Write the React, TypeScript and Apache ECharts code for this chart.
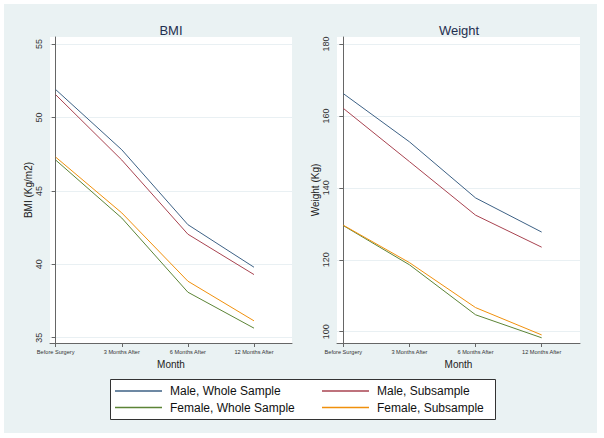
import React, { useEffect, useRef } from "react";
import * as echarts from "echarts";

const months = ["Before Surgery", "3 Months After", "6 Months After", "12 Months After"];
const seriesNames = ["Male, Whole Sample", "Male, Subsample", "Female, Whole Sample", "Female, Subsample"];
const colors = ["#3d6185", "#a84350", "#5c8436", "#f0900c"];

const bmiMaleWhole = [51.9, 47.8, 42.7, 39.8];
const bmiMaleSub = [51.55, 47.1, 42.05, 39.3];
const bmiFemaleWhole = [47.1, 43.15, 38.1, 35.65];
const bmiFemaleSub = [47.3, 43.5, 38.85, 36.15];

const wtMaleWhole = [166.2, 152.8, 137.2, 127.7];
const wtMaleSub = [162.1, 147.3, 132.4, 123.5];
const wtFemaleWhole = [129.5, 118.6, 104.7, 98.3];
const wtFemaleSub = [129.6, 119.2, 106.7, 99.1];

const bmiTicks = [35, 40, 45, 50, 55];
const wtTicks = [100, 120, 140, 160, 180];

const FONT = "'Liberation Sans', Arial, Helvetica, sans-serif";

export default function App() {
  const ref = useRef<HTMLDivElement>(null);

  useEffect(() => {
    if (!ref.current) return;
    const chart = echarts.init(ref.current, null, { renderer: "svg" });

    const toPairs = (arr: number[]) => arr.map((v, i) => [i, v]);
    const bmiSets = [bmiMaleWhole, bmiMaleSub, bmiFemaleWhole, bmiFemaleSub];
    const wtSets = [wtMaleWhole, wtMaleSub, wtFemaleWhole, wtFemaleSub];

    const mkX = (gridIndex: number, min: number, max: number) => ({
      type: "value" as const,
      gridIndex,
      min,
      max,
      name: "Month",
      nameLocation: "middle" as const,
      nameGap: 15,
      nameTextStyle: { fontFamily: FONT, fontSize: 10, color: "#222" },
      axisLine: { show: true, onZero: false, lineStyle: { color: "#666", width: 1 } },
      axisTick: { show: true, length: 4, customValues: [0, 1, 2, 3], lineStyle: { color: "#666" } },
      axisLabel: {
        customValues: [0, 1, 2, 3],
        formatter: (v: number) => months[Math.round(v)] ?? "",
        fontFamily: FONT,
        fontSize: 5.6,
        color: "#333",
        margin: 6,
      },
      splitLine: { show: false },
    });

    const mkY = (gridIndex: number, min: number, max: number, ticks: number[], name: string) => ({
      type: "value" as const,
      gridIndex,
      min,
      max,
      name,
      nameLocation: "middle" as const,
      nameRotate: 90,
      nameGap: 16,
      nameTextStyle: { fontFamily: FONT, fontSize: 10, color: "#222" },
      axisLine: { show: true, lineStyle: { color: "#666", width: 1 } },
      axisTick: { show: true, length: 4, customValues: ticks, lineStyle: { color: "#666" } },
      axisLabel: {
        customValues: ticks,
        rotate: 90,
        fontFamily: FONT,
        fontSize: 9,
        color: "#333",
        margin: 7,
      },
      splitLine: { show: true, lineStyle: { color: "#e9f0f3", width: 1 } },
    });

    const series: any[] = [];
    bmiSets.forEach((arr, i) => {
      series.push({
        type: "line",
        name: seriesNames[i],
        xAxisIndex: 0,
        yAxisIndex: 0,
        data: toPairs(arr),
        symbol: "none",
        lineStyle: { color: colors[i], width: 1 },
        itemStyle: { color: colors[i] },
      });
    });
    wtSets.forEach((arr, i) => {
      series.push({
        type: "line",
        name: seriesNames[i],
        xAxisIndex: 1,
        yAxisIndex: 1,
        data: toPairs(arr),
        symbol: "none",
        lineStyle: { color: colors[i], width: 1 },
        itemStyle: { color: colors[i] },
      });
    });

    const legendCommon = {
      orient: "vertical" as const,
      icon: "rect",
      itemWidth: 47,
      itemHeight: 1.5,
      itemGap: 4.5,
      padding: 0,
      selectedMode: false,
      textStyle: { fontFamily: FONT, fontSize: 12, color: "#111", padding: [0, 0, 0, 3] },
      z: 10,
    };

    chart.setOption({
      animation: false,
      backgroundColor: "#ffffff",
      title: [
        {
          text: "BMI",
          left: 171,
          top: 24,
          textAlign: "center",
          padding: 0,
          textStyle: { fontFamily: FONT, fontSize: 13, fontWeight: "normal", color: "#1f2f4f" },
        },
        {
          text: "Weight",
          left: 459,
          top: 24,
          textAlign: "center",
          padding: 0,
          textStyle: { fontFamily: FONT, fontSize: 13, fontWeight: "normal", color: "#1f2f4f" },
        },
      ],
      graphic: [
        {
          type: "rect",
          shape: { x: 4, y: 4, width: 593, height: 429 },
          style: { fill: "#eaf2f3" },
          z: -10,
          silent: true,
        },
        {
          type: "rect",
          shape: { x: 110.5, y: 379.5, width: 385, height: 40 },
          style: { fill: "#ffffff", stroke: "#333", lineWidth: 1 },
          z: 1,
          silent: true,
        },
      ],
      grid: [
        { left: 50, top: 37, width: 242, height: 306, show: true, backgroundColor: "#ffffff", borderWidth: 0 },
        { left: 337, top: 37, width: 243, height: 306, show: true, backgroundColor: "#ffffff", borderWidth: 0 },
      ],
      xAxis: [mkX(0, -0.086, 3.575), mkX(1, -0.096, 3.58)],
      yAxis: [
        mkY(0, 34.64, 55.48, bmiTicks, "BMI (Kg/m2)"),
        mkY(1, 96.85, 181.95, wtTicks, "Weight (Kg)"),
      ],
      legend: [
        { ...legendCommon, left: 115, top: 385, data: [seriesNames[0], seriesNames[2]] },
        { ...legendCommon, left: 322, top: 385, data: [seriesNames[1], seriesNames[3]] },
      ],
      series,
    });

    return () => chart.dispose();
  }, []);

  return (
    <div
      ref={ref}
      style={{ position: "absolute", left: 0, top: 0, width: 604, height: 438 }}
    />
  );
}
